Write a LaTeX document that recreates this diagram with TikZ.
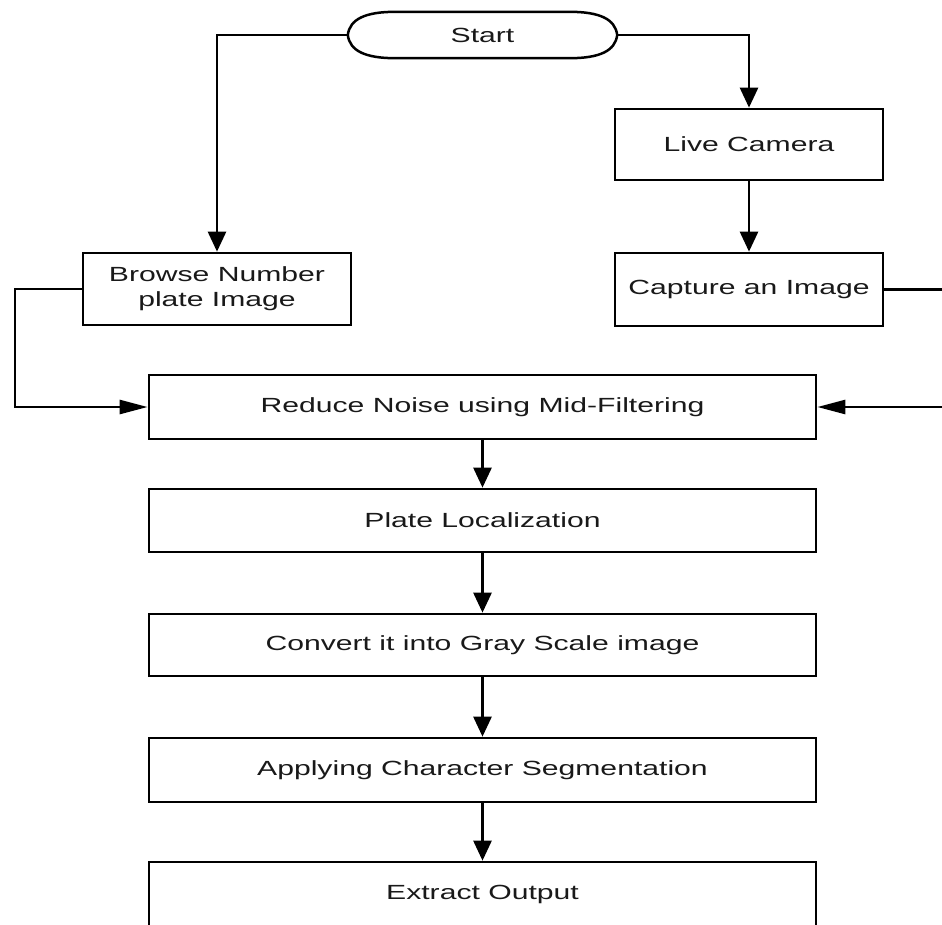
\documentclass[tikz,border=0pt]{standalone}
\usepackage{fontspec}
\setmainfont[FakeStretch=1.47]{Liberation Sans}
\usetikzlibrary{arrows.meta}
\begin{document}
\begin{tikzpicture}[x=1pt,y=-1pt,
  box/.style={draw, line width=2.7pt, rectangle, inner sep=0pt, align=center,
    font=\fontsize{20.5}{25}\selectfont, text=black!90},
  smallbox/.style={box, minimum width=268pt, minimum height=72pt},
  widebox/.style={box, minimum width=667pt, minimum height=64pt},
  conn/.style={line width=2.6pt},
  varr/.style={conn, -{Triangle[length=20pt,width=18pt]}},
  harr/.style={conn, -{Triangle[length=28pt,width=14pt]}}]
\useasboundingbox (0,0) rectangle (942,924);
\clip (0,0) rectangle (942,924);

% start terminator
\node[draw=none, minimum width=269pt, minimum height=46pt, inner sep=0pt,
  font=\fontsize{20.5}{25}\selectfont, text=black!90] (start) at (482.5,35) {Start};
\draw[line width=2.5pt] (start.west) .. controls +(2,-16) and +(-30,0) .. ([xshift=-87pt]start.north)
  -- ([xshift=87pt]start.north) .. controls +(30,0) and +(-2,-16) .. (start.east)
  .. controls +(-2,16) and +(30,0) .. ([xshift=87pt]start.south)
  -- ([xshift=-87pt]start.south) .. controls +(-30,0) and +(2,16) .. (start.west) -- cycle;

\node[smallbox] (browse) at (217,289) {Browse Number\\plate Image};
\node[smallbox, minimum height=71pt] (live) at (749,144.5) {Live Camera};
\node[smallbox, minimum height=73pt] (capture) at (749,289.5) {Capture an Image};

\node[widebox] (reduce) at (482.5,407) {Reduce Noise using Mid-Filtering};
\node[widebox, minimum height=63pt] (plate) at (482.5,520.5) {Plate Localization};
\node[widebox, minimum height=62pt] (convert) at (482.5,645) {Convert it into Gray Scale image};
\node[widebox] (apply) at (482.5,770) {Applying Character Segmentation};
\node[widebox] (extract) at (482.5,894) {Extract Output};

\coordinate (leftrail) at (15,407);
\coordinate (rightrail) at (946,407);

\draw[varr] (start.west) -| (browse.north);
\draw[varr] (start.east) -| (live.north);
\draw[varr] (live) -- (capture);
\draw[harr] (browse.west) -| (leftrail) -- (reduce.west);
\draw[harr] (capture.east) -| (rightrail) -- (reduce.east);
\draw[varr] (reduce) -- (plate);
\draw[varr] (plate) -- (convert);
\draw[varr] (convert) -- (apply);
\draw[varr] (apply) -- (extract);
\end{tikzpicture}
\end{document}
